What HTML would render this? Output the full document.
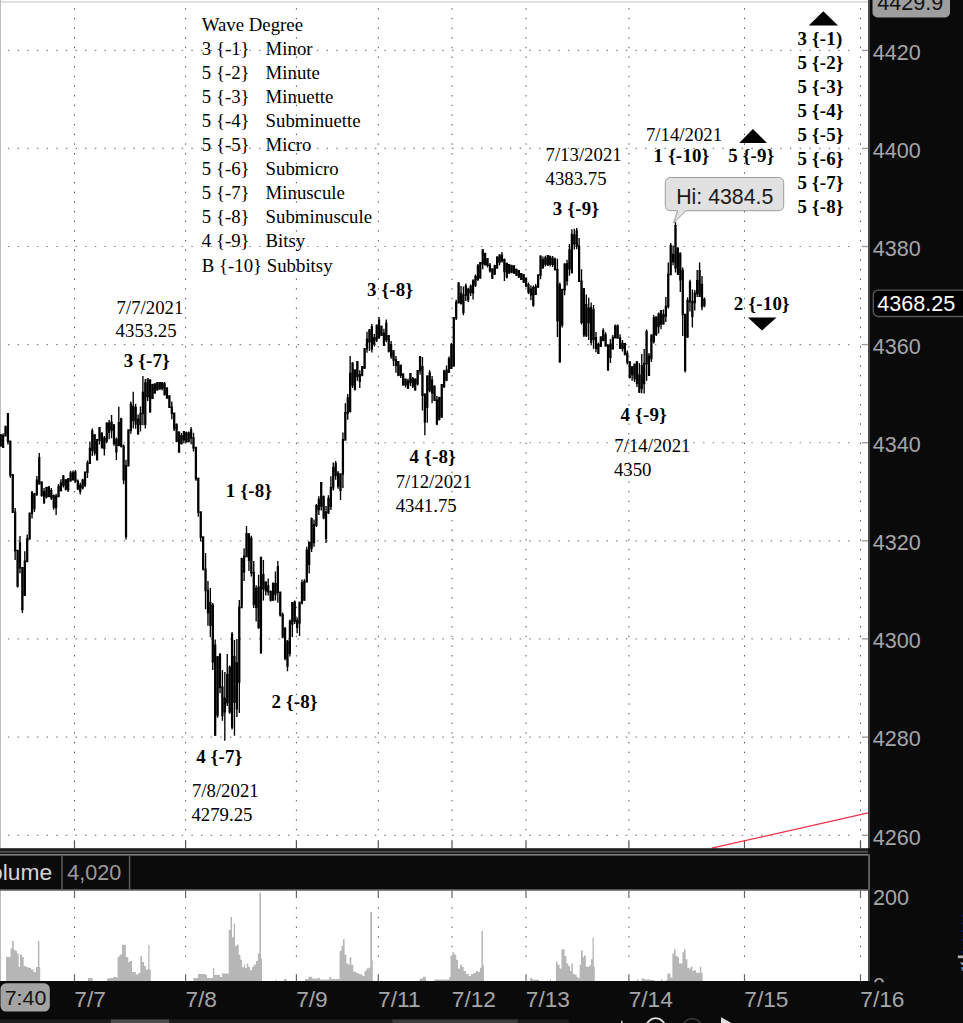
<!DOCTYPE html><html><head><meta charset="utf-8"><title>Chart</title><style>
html,body{margin:0;padding:0;background:#fff;}body{width:963px;height:1023px;overflow:hidden;position:relative;}
svg{position:absolute;left:0;top:0;display:block;}
.s{font-family:"Liberation Serif",serif;font-size:18.8px;fill:#000;}
.b{font-family:"Liberation Serif",serif;font-size:18.9px;font-weight:bold;fill:#000;letter-spacing:0.25px;}
.a{font-family:"Liberation Sans",sans-serif;font-size:21px;fill:#b0b0b0;}
</style></head><body>
<svg width="963" height="1023" viewBox="0 0 963 1023">
<rect x="0" y="0" width="963" height="1023" fill="#ffffff"/>
<line x1="7.90" y1="50.4" x2="852" y2="50.4" stroke="#858585" stroke-width="1.15" stroke-dasharray="1.5 8.155"/>
<line x1="7.90" y1="148.4" x2="852" y2="148.4" stroke="#858585" stroke-width="1.15" stroke-dasharray="1.5 8.155"/>
<line x1="7.90" y1="246.5" x2="852" y2="246.5" stroke="#858585" stroke-width="1.15" stroke-dasharray="1.5 8.155"/>
<line x1="7.90" y1="344.6" x2="852" y2="344.6" stroke="#858585" stroke-width="1.15" stroke-dasharray="1.5 8.155"/>
<line x1="7.90" y1="442.7" x2="852" y2="442.7" stroke="#858585" stroke-width="1.15" stroke-dasharray="1.5 8.155"/>
<line x1="7.90" y1="540.8" x2="852" y2="540.8" stroke="#858585" stroke-width="1.15" stroke-dasharray="1.5 8.155"/>
<line x1="7.90" y1="638.9" x2="852" y2="638.9" stroke="#858585" stroke-width="1.15" stroke-dasharray="1.5 8.155"/>
<line x1="7.90" y1="737.1" x2="852" y2="737.1" stroke="#858585" stroke-width="1.15" stroke-dasharray="1.5 8.155"/>
<line x1="7.90" y1="835.3" x2="852" y2="835.3" stroke="#858585" stroke-width="1.15" stroke-dasharray="1.5 8.155"/>
<line x1="74.5" y1="8.20" x2="74.5" y2="836" stroke="#505050" stroke-width="1.0" stroke-dasharray="1.4 8.255"/>
<line x1="74.5" y1="840.3" x2="74.5" y2="848.2" stroke="#555" stroke-width="1.2"/>
<line x1="185.6" y1="8.20" x2="185.6" y2="836" stroke="#505050" stroke-width="1.0" stroke-dasharray="1.4 8.255"/>
<line x1="185.6" y1="840.3" x2="185.6" y2="848.2" stroke="#555" stroke-width="1.2"/>
<line x1="296.4" y1="8.20" x2="296.4" y2="836" stroke="#505050" stroke-width="1.0" stroke-dasharray="1.4 8.255"/>
<line x1="296.4" y1="840.3" x2="296.4" y2="848.2" stroke="#555" stroke-width="1.2"/>
<line x1="378.3" y1="8.20" x2="378.3" y2="836" stroke="#505050" stroke-width="1.0" stroke-dasharray="1.4 8.255"/>
<line x1="378.3" y1="840.3" x2="378.3" y2="848.2" stroke="#555" stroke-width="1.2"/>
<line x1="452" y1="8.20" x2="452" y2="836" stroke="#505050" stroke-width="1.0" stroke-dasharray="1.4 8.255"/>
<line x1="452" y1="840.3" x2="452" y2="848.2" stroke="#555" stroke-width="1.2"/>
<line x1="526" y1="8.20" x2="526" y2="836" stroke="#505050" stroke-width="1.0" stroke-dasharray="1.4 8.255"/>
<line x1="526" y1="840.3" x2="526" y2="848.2" stroke="#555" stroke-width="1.2"/>
<line x1="628.9" y1="8.20" x2="628.9" y2="836" stroke="#505050" stroke-width="1.0" stroke-dasharray="1.4 8.255"/>
<line x1="628.9" y1="840.3" x2="628.9" y2="848.2" stroke="#555" stroke-width="1.2"/>
<line x1="744.5" y1="8.20" x2="744.5" y2="836" stroke="#505050" stroke-width="1.0" stroke-dasharray="1.4 8.255"/>
<line x1="744.5" y1="840.3" x2="744.5" y2="848.2" stroke="#555" stroke-width="1.2"/>
<line x1="860.5" y1="8.20" x2="860.5" y2="836" stroke="#505050" stroke-width="1.0" stroke-dasharray="1.4 8.255"/>
<line x1="860.5" y1="840.3" x2="860.5" y2="848.2" stroke="#555" stroke-width="1.2"/>
<line x1="74.5" y1="890.5" x2="74.5" y2="898" stroke="#666" stroke-width="1.2"/>
<line x1="74.5" y1="974.2" x2="74.5" y2="981" stroke="#666" stroke-width="1.2"/>
<line x1="74.5" y1="907.2" x2="74.5" y2="960" stroke="#505050" stroke-width="1.0" stroke-dasharray="1.4 8.255"/>
<line x1="185.6" y1="890.5" x2="185.6" y2="898" stroke="#666" stroke-width="1.2"/>
<line x1="185.6" y1="974.2" x2="185.6" y2="981" stroke="#666" stroke-width="1.2"/>
<line x1="185.6" y1="907.2" x2="185.6" y2="960" stroke="#505050" stroke-width="1.0" stroke-dasharray="1.4 8.255"/>
<line x1="296.4" y1="890.5" x2="296.4" y2="898" stroke="#666" stroke-width="1.2"/>
<line x1="296.4" y1="974.2" x2="296.4" y2="981" stroke="#666" stroke-width="1.2"/>
<line x1="296.4" y1="907.2" x2="296.4" y2="960" stroke="#505050" stroke-width="1.0" stroke-dasharray="1.4 8.255"/>
<line x1="378.3" y1="890.5" x2="378.3" y2="898" stroke="#666" stroke-width="1.2"/>
<line x1="378.3" y1="974.2" x2="378.3" y2="981" stroke="#666" stroke-width="1.2"/>
<line x1="378.3" y1="907.2" x2="378.3" y2="960" stroke="#505050" stroke-width="1.0" stroke-dasharray="1.4 8.255"/>
<line x1="452" y1="890.5" x2="452" y2="898" stroke="#666" stroke-width="1.2"/>
<line x1="452" y1="974.2" x2="452" y2="981" stroke="#666" stroke-width="1.2"/>
<line x1="452" y1="907.2" x2="452" y2="960" stroke="#505050" stroke-width="1.0" stroke-dasharray="1.4 8.255"/>
<line x1="526" y1="890.5" x2="526" y2="898" stroke="#666" stroke-width="1.2"/>
<line x1="526" y1="974.2" x2="526" y2="981" stroke="#666" stroke-width="1.2"/>
<line x1="526" y1="907.2" x2="526" y2="960" stroke="#505050" stroke-width="1.0" stroke-dasharray="1.4 8.255"/>
<line x1="628.9" y1="890.5" x2="628.9" y2="898" stroke="#666" stroke-width="1.2"/>
<line x1="628.9" y1="974.2" x2="628.9" y2="981" stroke="#666" stroke-width="1.2"/>
<line x1="628.9" y1="907.2" x2="628.9" y2="960" stroke="#505050" stroke-width="1.0" stroke-dasharray="1.4 8.255"/>
<line x1="744.5" y1="890.5" x2="744.5" y2="898" stroke="#666" stroke-width="1.2"/>
<line x1="744.5" y1="974.2" x2="744.5" y2="981" stroke="#666" stroke-width="1.2"/>
<line x1="744.5" y1="907.2" x2="744.5" y2="960" stroke="#505050" stroke-width="1.0" stroke-dasharray="1.4 8.255"/>
<line x1="860.5" y1="890.5" x2="860.5" y2="898" stroke="#666" stroke-width="1.2"/>
<line x1="860.5" y1="974.2" x2="860.5" y2="981" stroke="#666" stroke-width="1.2"/>
<line x1="860.5" y1="907.2" x2="860.5" y2="960" stroke="#505050" stroke-width="1.0" stroke-dasharray="1.4 8.255"/>
<rect x="0" y="1" width="868.2" height="1.8" fill="#dcdcdc"/>
<rect x="0" y="0" width="1" height="848.2" fill="#bdbdbd"/>
<rect x="0" y="890" width="1" height="91" fill="#bdbdbd"/>
<path d="M0.70 434.0V446.6M3.11 433.3V448.0M5.52 425.5V436.0M7.93 413.0V444.5M10.34 441.5V477.8M12.75 474.8V512.9M15.16 508.0V560.0M17.57 555.7V587.5M19.98 536.0V573.3M22.39 570.3V613.0M24.80 551.3V596.0M27.21 534.5V554.3M29.62 515.4V537.5M32.03 491.0V518.4M34.44 493.0V512.0M36.85 476.0V496.0M39.26 453.0V484.5M41.67 481.5V496.5M44.08 488.0V504.0M46.49 486.7V498.6M48.90 486.0V497.3M51.31 488.0V500.0M53.72 494.5V509.8M56.13 493.7V515.0M58.54 484.0V496.8M60.95 479.3V491.3M63.36 475.0V487.4M65.77 479.2V490.5M68.18 478.1V492.0M70.59 471.0V482.1M73.00 470.4V480.4M75.41 470.0V482.7M77.82 479.5V489.9M80.23 482.6V494.6M82.64 478.7V489.6M85.05 473.7V487.0M87.46 460.5V478.1M89.87 441.4V463.5M92.28 428.6V456.0M94.69 434.2V455.5M97.10 439.4V460.4M99.51 427.0V444.6M101.92 432.4V448.6M104.33 436.1V455.5M106.74 422.5V443.3M109.15 420.0V439.3M111.56 415.0V438.3M113.97 423.9V445.8M116.38 437.6V460.0M118.79 406.7V446.3M121.20 417.8V447.5M123.61 444.5V484.3M126.02 459.7V539.6M128.43 430.7V462.6M130.84 401.5V433.7M133.25 391.8V428.4M135.66 404.0V428.8M138.07 414.6V434.5M140.48 406.4V431.4M142.89 376.0V425.3M145.30 379.1V428.4M147.71 378.3V401.1M150.12 379.5V412.5M152.53 383.7V399.0M154.94 383.1V393.4M157.35 382.0V390.5M159.76 382.0V389.7M162.17 382.0V390.4M164.58 382.0V395.4M166.99 387.2V399.0M169.40 395.1V407.7M171.81 401.5V419.3M174.22 412.9V431.0M176.63 423.6V442.2M179.04 431.0V453.0M181.45 433.0V444.3M183.86 431.0V443.3M186.27 431.4V442.6M188.68 431.6V442.2M191.09 427.0V444.3M193.50 432.8V451.6M195.91 446.8V480.8M198.32 477.8V516.7M200.73 513.7V541.4M203.14 538.4V570.4M205.55 553.0V609.2M207.96 581.0V625.8M210.37 588.0V637.3M212.78 603.0V670.1M215.19 639.5V735.7M217.60 656.3V717.7M220.01 653.0V693.3M222.42 670.0V720.7M224.83 672.0V740.7M227.24 654.0V706.1M229.65 665.5V713.8M232.06 632.0V729.5M234.47 640.0V735.7M236.88 639.1V717.0M239.29 600.0V713.0M241.70 557.8V603.0M244.11 548.2V581.0M246.52 526.0V556.2M248.93 533.0V571.0M251.34 535.7V576.4M253.75 561.0V608.1M256.16 585.3V621.6M258.57 574.7V628.8M260.98 556.4V654.0M263.39 560.0V600.4M265.80 581.4V595.5M268.21 578.4V595.5M270.62 590.5V601.6M273.03 582.6V600.8M275.44 571.6V600.4M277.85 561.0V602.8M280.26 595.5V616.4M282.67 612.6V638.2M285.08 627.0V660.2M287.49 640.1V671.3M289.90 619.6V656.6M292.31 602.0V637.0M294.72 600.4V624.1M297.13 617.5V633.3M299.54 601.4V635.9M301.95 579.6V604.4M304.36 579.3V600.8M306.77 546.7V582.3M309.18 541.8V573.5M311.59 517.5V552.0M314.00 519.4V546.8M316.41 503.9V527.0M318.82 496.3V515.0M321.23 482.0V510.5M323.64 495.5V519.3M326.05 506.0V543.0M328.46 495.2V514.0M330.87 476.3V510.0M333.28 462.6V490.6M335.69 461.0V479.7M338.10 471.0V488.8M340.51 475.5V500.0M342.92 432.5V488.0M345.33 403.2V436.8M347.74 393.9V419.7M350.15 356.0V412.4M352.56 362.3V387.9M354.97 369.4V390.4M357.38 361.0V380.7M359.79 370.2V388.0M362.20 366.0V376.2M364.61 349.7V369.0M367.02 331.8V352.7M369.43 329.0V351.0M371.84 324.0V352.5M374.25 333.9V346.6M376.66 324.5V341.9M379.07 317.0V339.0M381.48 325.7V336.1M383.89 328.7V346.0M386.30 319.6V342.2M388.71 335.0V352.5M391.12 341.0V358.7M393.53 350.2V366.1M395.94 356.0V372.8M398.35 361.0V376.2M400.76 364.8V378.1M403.17 373.3V385.5M405.58 378.4V387.4M407.99 378.7V389.0M410.40 373.0V386.0M412.81 377.0V388.1M415.22 378.5V390.4M417.63 370.7V385.5M420.04 356.0V374.7M422.45 357.0V410.6M424.86 393.4V435.3M427.27 375.4V422.8M429.68 370.3V392.3M432.09 376.1V403.3M434.50 385.2V401.0M436.91 396.0V425.3M439.32 396.8V420.4M441.73 384.0V418.0M444.14 369.7V388.0M446.55 365.6V381.3M448.96 356.6V373.0M451.37 342.9V369.0M453.78 317.0V366.6M456.19 299.8V320.0M458.60 282.3V302.8M461.01 286.0V304.3M463.42 286.5V315.3M465.83 283.5V300.9M468.24 287.8V301.9M470.65 284.4V296.1M473.06 279.3V299.4M475.47 274.5V287.0M477.88 264.0V281.0M480.29 262.0V278.7M482.70 249.3V269.2M485.11 252.8V265.4M487.52 257.9V267.4M489.93 263.0V272.6M492.34 268.2V279.0M494.75 264.8V275.0M497.16 256.5V268.9M499.57 254.2V265.3M501.98 252.0V262.4M504.39 258.6V281.0M506.80 262.4V278.5M509.21 264.0V273.8M511.62 264.8V273.3M514.03 265.2V273.9M516.44 268.7V276.0M518.85 270.0V277.9M521.26 272.9V279.9M523.67 274.0V282.8M526.08 277.2V287.2M528.49 282.6V294.0M530.90 285.5V300.2M533.31 285.5V306.8M535.72 284.0V295.0M538.13 276.2V288.0M540.54 255.4V279.2M542.95 256.5V268.9M545.36 255.8V266.5M547.77 255.0V266.1M550.18 255.6V266.6M552.59 256.0V267.0M555.00 257.6V267.0M557.41 258.7V337.0M559.82 282.4V362.5M562.23 293.0V327.5M564.64 263.3V295.3M567.05 259.7V285.5M569.46 244.0V275.8M571.87 229.3V273.3M574.28 228.7V249.5M576.69 228.0V249.2M579.10 238.0V280.6M581.51 269.3V324.6M583.92 288.1V336.9M586.33 294.6V336.9M588.74 297.8V340.1M591.15 302.6V345.2M593.56 305.0V348.7M595.97 332.0V352.3M598.38 342.5V354.0M600.79 336.3V347.0M603.20 328.3V341.2M605.61 332.3V346.6M608.02 344.4V371.0M610.43 339.0V362.9M612.84 335.1V349.7M615.25 324.6V338.1M617.66 324.6V336.9M620.07 334.2V349.0M622.48 340.0V351.5M624.89 343.0V355.4M627.30 350.5V364.4M629.71 361.4V378.4M632.12 366.0V380.8M634.53 363.4V382.1M636.94 361.0V386.9M639.35 363.0V393.0M641.76 354.0V393.2M644.17 349.0V393.5M646.58 329.5V380.8M648.99 352.9V376.0M651.40 334.4V362.0M653.81 314.9V343.4M656.22 316.4V336.1M658.63 312.4V333.6M661.04 310.0V329.3M663.45 309.5V324.5M665.86 297.0V322.0M668.27 262.6V308.6M670.68 243.0V272.4M673.09 245.4V265.2M675.50 222.3V272.4M677.91 247.1V274.9M680.32 252.5V292.0M682.73 267.5V336.0M685.14 316.6V372.6M687.55 297.3V338.0M689.96 279.7V311.5M692.37 289.5V327.4M694.78 289.9V310.6M697.19 270.0V296.9M699.60 262.6V296.9M702.01 276.0V310.3M704.42 297.4V307.2" stroke="#000" stroke-width="1.35" fill="none"/>
<path d="M0.70 434.3V446.5M3.11 435.0V448.0M5.52 426.2V436.6M7.93 413.0V442.1M10.34 440.5V475.7M12.75 474.1V513.1M15.16 511.5V551.3M17.57 549.7V586.8M19.98 542.2V568.6M22.39 567.0V610.2M24.80 560.6V596.0M27.21 538.2V562.2M29.62 512.4V539.8M32.03 492.1V514.0M34.44 493.2V509.3M36.85 479.4V494.8M39.26 457.0V484.4M41.67 481.5V496.3M44.08 491.1V502.8M46.49 486.9V497.6M48.90 486.6V497.1M51.31 489.9V498.6M53.72 494.9V507.7M56.13 495.6V508.2M58.54 485.7V497.2M60.95 482.2V491.2M63.36 475.5V485.7M65.77 479.2V489.8M68.18 478.1V490.4M70.59 472.6V481.2M73.00 472.3V480.2M75.41 471.5V481.6M77.82 480.4V489.4M80.23 484.8V491.9M82.64 479.3V488.4M85.05 471.4V485.4M87.46 462.4V473.0M89.87 447.7V464.0M92.28 430.3V450.9M94.69 434.2V453.6M97.10 439.1V460.3M99.51 427.0V440.7M101.92 432.5V448.2M104.33 437.4V449.3M106.74 422.6V441.5M109.15 422.4V433.0M111.56 421.6V431.0M113.97 424.6V444.3M116.38 438.8V452.6M118.79 421.9V445.9M121.20 418.2V446.8M123.61 445.4V480.4M126.02 465.0V537.3M128.43 429.3V466.6M130.84 403.4V430.9M133.25 405.8V421.1M135.66 406.8V424.8M138.07 418.4V434.5M140.48 412.7V425.0M142.89 391.8V414.3M145.30 382.3V425.1M147.71 378.4V397.3M150.12 379.6V412.4M152.53 384.0V398.9M154.94 383.4V393.4M157.35 382.0V390.5M159.76 382.0V389.5M162.17 382.0V388.8M164.58 383.3V395.3M166.99 387.4V398.6M169.40 395.5V408.1M171.81 406.5V414.1M174.22 412.5V429.2M176.63 423.7V442.1M179.04 432.1V452.4M181.45 435.0V444.2M183.86 431.0V440.5M186.27 432.2V442.5M188.68 432.3V442.2M191.09 429.0V438.8M193.50 437.2V448.6M195.91 447.0V479.4M198.32 477.8V512.8M200.73 511.2V537.9M203.14 536.3V569.7M205.55 568.6V591.3M207.96 589.7V613.6M210.37 601.9V626.0M212.78 604.4V662.5M215.19 644.6V735.7M217.60 656.3V715.7M220.01 654.1V688.1M222.42 686.5V716.4M224.83 697.4V712.5M227.24 674.0V703.2M229.65 666.5V712.8M232.06 633.6V727.8M234.47 655.7V703.1M236.88 662.2V709.5M239.29 606.7V682.7M241.70 557.9V608.3M244.11 555.6V572.6M246.52 533.1V557.2M248.93 533.5V561.1M251.34 537.6V573.4M253.75 571.8V605.0M256.16 587.7V607.9M258.57 586.6V628.2M260.98 557.1V653.1M263.39 573.9V589.4M265.80 581.5V591.4M268.21 585.3V592.4M270.62 590.9V600.8M273.03 582.7V600.8M275.44 583.0V595.3M277.85 565.9V593.1M280.26 591.5V615.6M282.67 614.0V637.7M285.08 627.9V659.0M287.49 640.8V666.8M289.90 620.7V653.9M292.31 602.2V624.8M294.72 601.6V622.0M297.13 619.8V627.9M299.54 601.9V623.7M301.95 582.2V603.5M304.36 581.0V600.8M306.77 549.6V582.6M309.18 541.8V565.0M311.59 517.9V548.8M314.00 524.1V543.2M316.41 505.0V525.7M318.82 498.7V510.2M321.23 482.1V506.7M323.64 496.1V518.5M326.05 511.6V539.0M328.46 497.7V513.2M330.87 487.0V507.2M333.28 467.0V488.6M335.69 463.1V475.9M338.10 472.5V486.7M340.51 473.2V490.9M342.92 439.1V474.8M345.33 412.1V440.7M347.74 397.3V413.7M350.15 372.7V412.0M352.56 362.5V385.8M354.97 369.5V389.9M357.38 361.0V377.0M359.79 374.1V382.0M362.20 366.1V375.7M364.61 348.0V368.8M367.02 338.6V349.6M369.43 329.4V342.6M371.84 325.9V349.7M374.25 337.0V344.4M376.66 324.7V340.6M379.07 319.5V337.9M381.48 325.8V335.8M383.89 332.5V346.0M386.30 322.5V340.4M388.71 335.0V351.7M391.12 343.9V356.7M393.53 350.3V360.8M395.94 359.2V366.1M398.35 361.1V375.8M400.76 364.8V376.1M403.17 373.5V385.4M405.58 378.8V385.5M407.99 380.4V388.8M410.40 373.1V383.3M412.81 377.9V386.8M415.22 378.5V390.4M417.63 369.9V384.4M420.04 356.0V371.5M422.45 366.1V396.1M424.86 393.5V422.4M427.27 375.5V408.0M429.68 372.2V391.2M432.09 379.6V393.5M434.50 385.7V400.9M436.91 399.4V424.6M439.32 396.9V420.1M441.73 384.1V417.4M444.14 370.4V387.3M446.55 369.4V380.7M448.96 358.3V372.8M451.37 344.2V369.0M453.78 317.0V366.6M456.19 301.8V318.6M458.60 282.6V303.4M461.01 292.7V304.2M463.42 294.6V313.0M465.83 285.3V295.8M468.24 288.7V300.4M470.65 285.8V293.3M473.06 280.2V293.5M475.47 276.0V285.7M477.88 265.2V280.1M480.29 262.0V278.6M482.70 249.3V264.6M485.11 253.0V265.3M487.52 257.9V266.1M489.93 264.5V271.5M492.34 268.4V278.8M494.75 265.0V274.5M497.16 256.6V268.3M499.57 254.4V262.7M501.98 254.5V261.6M504.39 259.1V272.2M506.80 263.0V277.6M509.21 264.0V273.4M511.62 265.3V272.7M514.03 265.3V273.4M516.44 268.7V275.8M518.85 270.0V277.6M521.26 272.9V279.9M523.67 274.2V282.7M526.08 278.1V286.5M528.49 284.2V292.8M530.90 288.6V295.4M533.31 286.9V305.8M535.72 285.9V294.9M538.13 274.2V287.5M540.54 255.4V275.8M542.95 258.9V267.7M545.36 257.2V264.7M547.77 255.1V265.4M550.18 256.3V264.7M552.59 257.8V265.1M555.00 258.4V270.4M557.41 268.8V321.2M559.82 284.2V362.5M562.23 288.8V325.6M564.64 263.4V290.4M567.05 263.0V281.2M569.46 249.2V269.6M571.87 233.7V273.3M574.28 234.3V244.6M576.69 230.3V247.0M579.10 245.4V282.0M581.51 280.4V323.1M583.92 288.2V335.5M586.33 304.1V336.2M588.74 307.5V323.2M591.15 307.0V342.6M593.56 309.2V340.1M595.97 337.0V349.0M598.38 343.7V354.0M600.79 336.4V346.8M603.20 330.1V340.9M605.61 334.2V346.6M608.02 344.5V370.2M610.43 343.5V358.1M612.84 336.8V349.2M615.25 325.5V338.4M617.66 325.3V338.8M620.07 337.2V348.8M622.48 342.8V349.0M624.89 343.0V354.7M627.30 352.8V362.8M629.71 361.2V377.9M632.12 366.3V375.2M634.53 363.7V379.5M636.94 361.2V384.0M639.35 374.4V392.8M641.76 365.1V389.0M644.17 362.8V384.3M646.58 330.7V364.4M648.99 355.2V376.0M651.40 334.4V359.2M653.81 317.3V342.3M656.22 316.6V335.1M658.63 313.3V327.3M661.04 310.0V324.7M663.45 313.9V324.4M665.86 305.7V316.7M668.27 273.6V307.3M670.68 244.7V275.2M673.09 253.7V262.3M675.50 225.0V268.5M677.91 247.9V274.9M680.32 252.7V280.5M682.73 269.8V315.3M685.14 313.7V370.9M687.55 299.7V337.4M689.96 281.6V302.4M692.37 300.8V316.9M694.78 292.6V303.3M697.19 280.0V294.2M699.60 270.1V296.9M702.01 283.7V307.4M704.42 298.8V306.2" stroke="#000" stroke-width="2.25" fill="none"/>
<line x1="711.7" y1="848.2" x2="868.2" y2="812.8" stroke="#f0304c" stroke-width="1.3"/>
<polygon points="808.8,25.4 838,25.4 823.3,11.3" fill="#000"/>
<polygon points="739.2,142.9 767,142.9 752.9,128.9" fill="#000"/>
<polygon points="747.9,317.4 776.5,317.4 762,330.5" fill="#000"/>
<text class="s" x="201.8" y="30.70">Wave Degree</text>
<text class="s" x="201.8" y="54.78">3 {-1}</text>
<text class="s" x="265.6" y="54.78">Minor</text>
<text class="s" x="201.8" y="78.86">5 {-2}</text>
<text class="s" x="265.6" y="78.86">Minute</text>
<text class="s" x="201.8" y="102.94">5 {-3}</text>
<text class="s" x="265.6" y="102.94">Minuette</text>
<text class="s" x="201.8" y="127.02">5 {-4}</text>
<text class="s" x="265.6" y="127.02">Subminuette</text>
<text class="s" x="201.8" y="151.10">5 {-5}</text>
<text class="s" x="265.6" y="151.10">Micro</text>
<text class="s" x="201.8" y="175.18">5 {-6}</text>
<text class="s" x="265.6" y="175.18">Submicro</text>
<text class="s" x="201.8" y="199.26">5 {-7}</text>
<text class="s" x="265.6" y="199.26">Minuscule</text>
<text class="s" x="201.8" y="223.34">5 {-8}</text>
<text class="s" x="265.6" y="223.34">Subminuscule</text>
<text class="s" x="201.8" y="247.42">4 {-9}</text>
<text class="s" x="265.6" y="247.42">Bitsy</text>
<text class="s" x="201.8" y="271.50">B {-10} Subbitsy</text>
<text class="s" x="116.6" y="313.9">7/7/2021</text>
<text class="s" x="115.6" y="337.2">4353.25</text>
<text class="b" x="123.7" y="366.6">3 {-7}</text>
<text class="b" x="225.8" y="497.1">1 {-8}</text>
<text class="b" x="271.4" y="707.7">2 {-8}</text>
<text class="b" x="196.2" y="763.2">4 {-7}</text>
<text class="s" x="191.9" y="797.4">7/8/2021</text>
<text class="s" x="191.4" y="820.6">4279.25</text>
<text class="b" x="366.9" y="295.6">3 {-8}</text>
<text class="b" x="409.6" y="463">4 {-8}</text>
<text class="s" x="395.7" y="488.1">7/12/2021</text>
<text class="s" x="395.7" y="512.3">4341.75</text>
<text class="s" x="545.5" y="161.3">7/13/2021</text>
<text class="s" x="545.5" y="184.8">4383.75</text>
<text class="b" x="552.8" y="215.3">3 {-9}</text>
<text class="s" x="645.9" y="141">7/14/2021</text>
<text class="b" x="653.5" y="162.1">1 {-10}</text>
<text class="b" x="728.2" y="162.1">5 {-9}</text>
<text class="b" x="620.6" y="421.2">4 {-9}</text>
<text class="s" x="614.3" y="452">7/14/2021</text>
<text class="s" x="613.9" y="475.6">4350</text>
<text class="b" x="733.8" y="310.1">2 {-10}</text>
<text class="b" x="797.4" y="45.00">3 {-1)</text>
<text class="b" x="797.4" y="69.05">5 {-2}</text>
<text class="b" x="797.4" y="93.10">5 {-3}</text>
<text class="b" x="797.4" y="117.15">5 {-4}</text>
<text class="b" x="797.4" y="141.20">5 {-5}</text>
<text class="b" x="797.4" y="165.25">5 {-6}</text>
<text class="b" x="797.4" y="189.30">5 {-7}</text>
<text class="b" x="797.4" y="213.35">5 {-8}</text>
<path d="M670.3 177.5 H778.7 a5 5 0 0 1 5 5 V205.7 a5 5 0 0 1 -5 5 H686 L673.6 223 L677.5 210.7 H670.3 a5 5 0 0 1 -5 -5 V182.5 a5 5 0 0 1 5 -5 Z" fill="#e1e1e1" stroke="#9c9c9c" stroke-width="1"/>
<text transform="translate(676.2,204.4) scale(0.978,1)" style="font-family:'Liberation Sans',sans-serif;font-size:21.8px;fill:#1a1a1a;">Hi: 4384.5</text>
<rect x="0" y="848.2" width="870.2" height="3" fill="#1e1e1e"/>
<rect x="0" y="851.2" width="870.2" height="1.8" fill="#3a3a3a"/>
<rect x="0" y="853" width="870.2" height="1.2" fill="#1a1a1a"/>
<rect x="0" y="854.2" width="870.0" height="36.6" fill="#666"/>
<rect x="0" y="855.8" width="868.2" height="33.4" fill="#0b0b0b"/>
<rect x="61.2" y="855.9" width="1.6" height="33.2" fill="#5a5a5a"/>
<rect x="128.8" y="855.9" width="1.6" height="33.2" fill="#5a5a5a"/>
<text transform="translate(-23.85,879.8) scale(1.035,1)" style="font-family:'Liberation Sans',sans-serif;font-size:22px;fill:#d6d6d6;">Volume</text>
<text transform="translate(67.3,879.8) scale(0.99,1)" style="font-family:'Liberation Sans',sans-serif;font-size:21.8px;fill:#9c9c9c;">4,020</text>
<path d="M6 981L6 957L8.5 957L8.5 957L10.5 957L10.5 948.4L12 948.4L12 941L13.7 941L13.7 949.7L15.4 949.7L15.4 951L17 951L17 953.4L18.7 953.4L18.7 967L20 967L20 954.6L22 954.6L22 957L23.7 957L23.7 966L26 966L26 967L28.5 967L28.5 968L31 968L31 969.6L33.6 969.6L33.6 972L36 972L36 967L37.9 967L37.9 941L39.4 941L39.4 967L40.2 967L40.2 981L87 981L87 981L88 981L88 978L92 978L92 978L92.5 978L92.5 981L106 981L106 981L107 981L107 978.5L110 978.5L110 978L113 978L113 977L117 977L117 978L117.6 978L117.6 957L119.6 957L119.6 954.6L122 954.6L122 944.7L124.6 944.7L124.6 944.7L125.9 944.7L125.9 957L128.3 957L128.3 962L130 962L130 961L132 961L132 972L135.8 972L135.8 974.6L138.3 974.6L138.3 973L140.3 973L140.3 955.9L142 955.9L142 962L144 962L144 966L145.8 966L145.8 969.6L148.3 969.6L148.3 944.7L149.5 944.7L149.5 969.6L150.8 969.6L150.8 981L193 981L193 981L193.5 981L193.5 978L197 978L197 978L198 978L198 974L205.6 974L205.6 975L207 975L207 978L212 978L212 978L213 978L213 968L214.3 968L214.3 975L220 975L220 977L222 977L222 973.5L228 973.5L228 973.5L228.7 973.5L228.7 929.8L230.5 929.8L230.5 916.9L232 916.9L232 937.3L233.7 937.3L233.7 923.6L235 923.6L235 946L237 946L237 944.8L238.7 944.8L238.7 954.8L240.4 954.8L240.4 959.8L242 959.8L242 967.2L243.7 967.2L243.7 964.7L245 964.7L245 968L246.7 968L246.7 963.5L248.3 963.5L248.3 967L250 967L250 970.2L252 970.2L252 967L253.6 967L253.6 964.7L256 964.7L256 961L257.9 961L257.9 953.5L259.4 953.5L259.4 892.5L261 892.5L261 958.5L262 958.5L262 981L275 981L275 981L275.5 981L275.5 979.5L276.5 979.5L276.5 981L283.5 981L283.5 981L284 981L284 979L286 979L286 979L286.5 979L286.5 981L304.7 981L304.7 981L305 981L305 979L308 979L308 979L308.5 979L308.5 976.7L311 976.7L311 976.7L312 976.7L312 978.5L316 978.5L316 978.5L318.5 978.5L318.5 978L320 978L320 979.5L327 979.5L327 979.5L329.5 979.5L329.5 976.7L331 976.7L331 979L338.5 979L338.5 979L339.6 979L339.6 951L341.4 951L341.4 946L342.9 946L342.9 939.3L344.6 939.3L344.6 954.8L346.4 954.8L346.4 963.5L348.3 963.5L348.3 964.7L349.6 964.7L349.6 957.3L351.3 957.3L351.3 964.7L353.3 964.7L353.3 971.7L355.8 971.7L355.8 972.7L358.3 972.7L358.3 974L360.8 974L360.8 974.7L362.6 974.7L362.6 976L364.5 976L364.5 971L366.5 971L366.5 968.5L368.8 968.5L368.8 967.7L370.3 967.7L370.3 911.9L372 911.9L372 960.2L372.8 960.2L372.8 981L419.4 981L419.4 981L419.6 981L419.6 978.5L423 978.5L423 976.7L425.6 976.7L425.6 978.5L426 978.5L426 981L434 981L434 981L434.5 981L434.5 979.5L449 979.5L449 979.5L449.3 979.5L449.3 977L450.5 977L450.5 956L452.5 956L452.5 952.3L454.4 952.3L454.4 954.8L456.2 954.8L456.2 959.8L458 959.8L458 968.5L460 968.5L460 964.7L462 964.7L462 967L463.7 967L463.7 971L466 971L466 974L468.7 974L468.7 976L471 976L471 974L473.6 974L473.6 972.7L476 972.7L476 971L478 971L478 972L479.9 972L479.9 967.7L481.4 967.7L481.4 931L482.9 931L482.9 965.2L483.9 965.2L483.9 981L530 981L530 981L530.2 981L530.2 978L532.2 978L532.2 978L532.5 978L532.5 979.7L538.5 979.7L538.5 979.7L539 979.7L539 981L549.5 981L549.5 981L550 981L550 979L551 979L551 981L555.9 981L555.9 961.7L557.6 961.7L557.6 964.7L559.6 964.7L559.6 968.5L561.4 968.5L561.4 949.3L563 949.3L563 949.3L564.6 949.3L564.6 956L566.4 956L566.4 963.5L568.3 963.5L568.3 966L570 966L570 971L571.3 971L571.3 963.5L572.8 963.5L572.8 974L574.6 974L574.6 974.7L576.6 974.7L576.6 977L578.3 977L578.3 978.5L579.6 978.5L579.6 964.7L581 964.7L581 950.5L582.8 950.5L582.8 957.3L584 957.3L584 955.5L585.8 955.5L585.8 966.7L587.5 966.7L587.5 966.7L589.5 966.7L589.5 965.2L591 965.2L591 959.3L592.5 959.3L592.5 937.8L593.8 937.8L593.8 966.7L594.8 966.7L594.8 981L636.5 981L636.5 981L637 981L637 979.5L638.5 979.5L638.5 981L641.4 981L641.4 981L641.7 981L641.7 978.5L643.5 978.5L643.5 978.5L644.4 978.5L644.4 979.5L648 979.5L648 979.5L650.5 979.5L650.5 980L654 980L654 980L654.5 980L654.5 981L660.5 981L660.5 981L661 981L661 979.5L662.5 979.5L662.5 981L665.5 981L665.5 981L666 981L666 980L667.4 980L667.4 973.5L669.4 973.5L669.4 973.5L670.4 973.5L670.4 977.5L672.4 977.5L672.4 953.5L674 953.5L674 949.3L675.6 949.3L675.6 956L677.4 956L677.4 957.3L679 957.3L679 963.5L681 963.5L681 963.5L682.4 963.5L682.4 952.3L684 952.3L684 949.3L685.6 949.3L685.6 959.3L687.4 959.3L687.4 967.7L689 967.7L689 968.5L690.6 968.5L690.6 966.7L692.4 966.7L692.4 971L694 971L694 970.2L696 970.2L696 972.7L697.8 972.7L697.8 972.7L699.8 972.7L699.8 966.7L701.3 966.7L701.3 972.7L702.6 972.7L702.6 981L702.6 981L702.6 981Z" fill="#b6b6b6" stroke="none"/>
<rect x="868.2" y="0" width="94.79999999999995" height="1023" fill="#0a0a0a"/>
<rect x="868.2" y="0" width="1.8" height="848.2" fill="#4a4a4a"/>
<rect x="868.2" y="854.2" width="1.8" height="36.6" fill="#666"/>
<rect x="868.2" y="890.8" width="1.8" height="90.2" fill="#484848"/>
<line x1="861.8" y1="50.4" x2="868.2" y2="50.4" stroke="#a0a0a0" stroke-width="1.4"/>
<line x1="861.8" y1="148.4" x2="868.2" y2="148.4" stroke="#a0a0a0" stroke-width="1.4"/>
<line x1="861.8" y1="246.5" x2="868.2" y2="246.5" stroke="#a0a0a0" stroke-width="1.4"/>
<line x1="861.8" y1="344.6" x2="868.2" y2="344.6" stroke="#a0a0a0" stroke-width="1.4"/>
<line x1="861.8" y1="442.7" x2="868.2" y2="442.7" stroke="#a0a0a0" stroke-width="1.4"/>
<line x1="861.8" y1="540.8" x2="868.2" y2="540.8" stroke="#a0a0a0" stroke-width="1.4"/>
<line x1="861.8" y1="638.9" x2="868.2" y2="638.9" stroke="#a0a0a0" stroke-width="1.4"/>
<line x1="861.8" y1="737.1" x2="868.2" y2="737.1" stroke="#a0a0a0" stroke-width="1.4"/>
<line x1="861.8" y1="835.3" x2="868.2" y2="835.3" stroke="#a0a0a0" stroke-width="1.4"/>
<text transform="translate(872.7,59.6) scale(0.99,1)" style="font-family:'Liberation Sans',sans-serif;font-size:21.8px;fill:#a6a6a6;">4420</text>
<text transform="translate(872.7,157.6) scale(0.99,1)" style="font-family:'Liberation Sans',sans-serif;font-size:21.8px;fill:#a6a6a6;">4400</text>
<text transform="translate(872.7,255.7) scale(0.99,1)" style="font-family:'Liberation Sans',sans-serif;font-size:21.8px;fill:#a6a6a6;">4380</text>
<text transform="translate(872.7,353.8) scale(0.99,1)" style="font-family:'Liberation Sans',sans-serif;font-size:21.8px;fill:#a6a6a6;">4360</text>
<text transform="translate(872.7,451.9) scale(0.99,1)" style="font-family:'Liberation Sans',sans-serif;font-size:21.8px;fill:#a6a6a6;">4340</text>
<text transform="translate(872.7,550.0) scale(0.99,1)" style="font-family:'Liberation Sans',sans-serif;font-size:21.8px;fill:#a6a6a6;">4320</text>
<text transform="translate(872.7,648.1) scale(0.99,1)" style="font-family:'Liberation Sans',sans-serif;font-size:21.8px;fill:#a6a6a6;">4300</text>
<text transform="translate(872.7,746.3) scale(0.99,1)" style="font-family:'Liberation Sans',sans-serif;font-size:21.8px;fill:#a6a6a6;">4280</text>
<text transform="translate(872.7,844.5) scale(0.99,1)" style="font-family:'Liberation Sans',sans-serif;font-size:21.8px;fill:#a6a6a6;">4260</text>
<rect x="872.5" y="-8" width="77.5" height="25.5" rx="5" ry="5" fill="#9e9e9e"/>
<text transform="translate(877.3,10.4) scale(0.99,1)" style="font-family:'Liberation Sans',sans-serif;font-size:21.8px;fill:#111;">4429.9</text>
<rect x="873.3" y="290.1" width="100" height="26.4" rx="5" ry="5" fill="#000" stroke="#5a5a5a" stroke-width="1.3"/>
<text transform="translate(877.2,310.6) scale(0.99,1)" style="font-family:'Liberation Sans',sans-serif;font-size:21.8px;fill:#ffffff;">4368.25</text>
<text transform="translate(873,905.2) scale(0.99,1)" style="font-family:'Liberation Sans',sans-serif;font-size:21.8px;fill:#a6a6a6;">200</text>
<rect x="0" y="981" width="963" height="42" fill="#0a0a0a"/>
<text transform="translate(873,992.6) scale(0.99,1)" style="font-family:'Liberation Sans',sans-serif;font-size:21.8px;fill:#a6a6a6;">0</text>
<rect x="871.2" y="982.3" width="60" height="12" fill="#0a0a0a"/>
<text transform="translate(74.3,1006.7) scale(1.04,1)" style="font-family:'Liberation Sans',sans-serif;font-size:21.8px;fill:#a6a6a6;">7/7</text>
<text transform="translate(185.4,1006.7) scale(1.04,1)" style="font-family:'Liberation Sans',sans-serif;font-size:21.8px;fill:#a6a6a6;">7/8</text>
<text transform="translate(296.2,1006.7) scale(1.04,1)" style="font-family:'Liberation Sans',sans-serif;font-size:21.8px;fill:#a6a6a6;">7/9</text>
<text transform="translate(378.1,1006.7) scale(1.04,1)" style="font-family:'Liberation Sans',sans-serif;font-size:21.8px;fill:#a6a6a6;">7/11</text>
<text transform="translate(451.8,1006.7) scale(1.04,1)" style="font-family:'Liberation Sans',sans-serif;font-size:21.8px;fill:#a6a6a6;">7/12</text>
<text transform="translate(525.8,1006.7) scale(1.04,1)" style="font-family:'Liberation Sans',sans-serif;font-size:21.8px;fill:#a6a6a6;">7/13</text>
<text transform="translate(628.7,1006.7) scale(1.04,1)" style="font-family:'Liberation Sans',sans-serif;font-size:21.8px;fill:#a6a6a6;">7/14</text>
<text transform="translate(744.3,1006.7) scale(1.04,1)" style="font-family:'Liberation Sans',sans-serif;font-size:21.8px;fill:#a6a6a6;">7/15</text>
<text transform="translate(860.3,1006.7) scale(1.04,1)" style="font-family:'Liberation Sans',sans-serif;font-size:21.8px;fill:#a6a6a6;">7/16</text>
<rect x="0.5" y="983.3" width="49.3" height="28.3" rx="5.5" ry="5.5" fill="#a3a3a3"/>
<text transform="translate(4.7,1004.7) scale(1.02,1)" style="font-family:'Liberation Sans',sans-serif;font-size:21px;fill:#111;">7:40</text>
<rect x="0" y="1019.5" width="568.5" height="4" fill="#1e1e1e"/>
<rect x="111" y="1019.5" width="58" height="4" fill="#4c4c4c"/>
<rect x="392.4" y="1019.5" width="125.3" height="4" fill="#3c3c3c"/>
<circle cx="655.7" cy="1027.8" r="9.6" fill="none" stroke="#e0e0e0" stroke-width="1.8"/>
<circle cx="692.2" cy="1028.2" r="9.6" fill="none" stroke="#333" stroke-width="1.8"/>
<polygon points="721,1017.3 721,1030 735,1025" fill="#e0e0e0"/>
<rect x="621" y="1020.8" width="1.5" height="4" fill="#ccc"/>
<rect x="957.8" y="955.5" width="6" height="2.7" fill="#b0b0b0"/>
<polygon points="960,962.3 963,962.8 963,965 961.5,964.6" fill="#9fb0c4"/>
<polygon points="961,967 963,967.4 963,971 962,970.6" fill="#4a90d8"/>
<rect x="962" y="914.6" width="1" height="2.2" fill="#101a6a"/>
<rect x="962" y="922.4" width="1" height="2.2" fill="#101a6a"/>
<rect x="962" y="929.9" width="1" height="2.2" fill="#101a6a"/>
<rect x="962" y="938.8" width="1" height="2.2" fill="#101a6a"/>
<rect x="962" y="951" width="1" height="2.2" fill="#101a6a"/>
</svg></body></html>
